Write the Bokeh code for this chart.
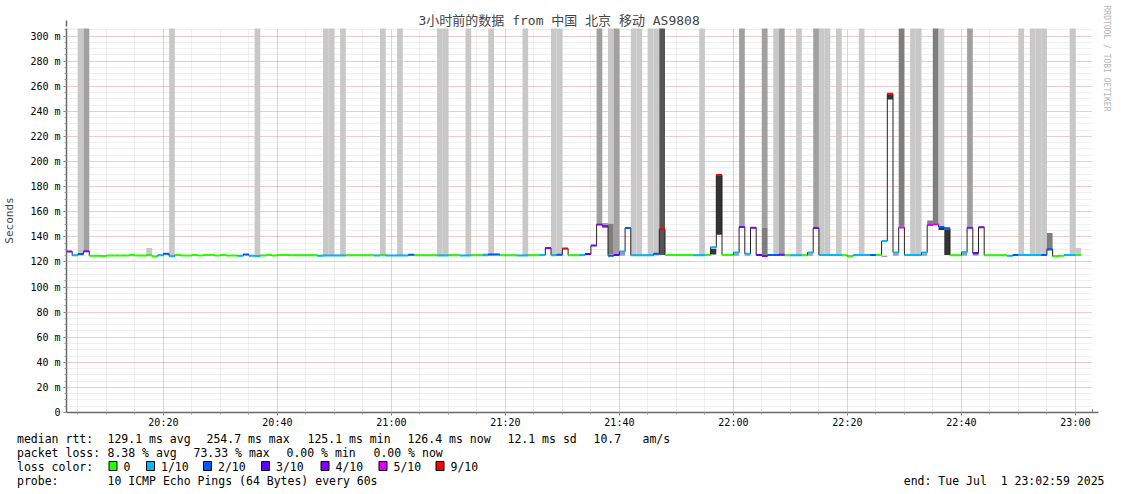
from bokeh.plotting import figure
from bokeh.layouts import column
from bokeh.models import (FixedTicker, Arrow, NormalHead, Range1d, ColumnDataSource, Title)
from bokeh.core.properties import value
from bokeh.embed import file_html
from bokeh.resources import INLINE

# ---------------- data ----------------
first_minute = 3          # first 1-minute step starts at 20:03 (minutes after 20:00)
rtt_median = [
    128.3, 125.3, 126.3, 128.5, 125.0, 125.0, 124.7, 125.1, 125.1, 125.1,
    125.1, 125.6, 125.1, 125.1, 125.3, 124.4, 125.3, 126.5, 124.5, 125.6,
    125.1, 125.1, 125.5, 125.1, 125.5, 125.5, 125.1, 125.5, 125.1, 125.1,
    125.0, 125.9, 125.0, 124.8, 125.2, 125.5, 125.2, 125.5, 125.5, 125.3,
    125.3, 125.3, 125.3, 125.3, 125.0, 125.2, 125.2, 125.2, 125.2, 125.3,
    125.3, 125.3, 125.3, 125.3, 125.2, 125.4, 125.2, 125.2, 125.2, 125.2,
    125.8, 125.3, 125.3, 125.3, 125.3, 125.2, 125.2, 125.4, 125.4, 125.2,
    125.2, 125.4, 125.4, 125.4, 126.0, 126.0, 125.3, 125.3, 125.3, 125.2,
    125.2, 125.4, 125.4, 125.5, 131.0, 125.3, 125.8, 130.6, 125.4, 125.4,
    125.5, 126.3, 133.0, 149.8, 148.5, 125.0, 125.6, 128.3, 147.0, 125.3,
    125.3, 125.3, 125.3, 126.5, 146.0, 125.5, 125.5, 125.5, 125.5, 125.5,
    125.3, 125.3, 125.5, 131.6, 189.3, 125.5, 125.5, 127.5, 147.9, 126.5,
    147.3, 125.6, 124.7, 125.5, 125.5, 125.8, 125.3, 125.3, 125.3, 125.3,
    127.5, 147.0, 125.5, 125.5, 125.5, 125.5, 125.3, 124.5, 125.5, 125.5,
    125.5, 125.5, 125.5, 136.6, 254.0, 127.5, 147.5, 125.5, 125.5, 125.5,
    127.5, 149.5, 150.0, 147.8, 146.8, 125.3, 125.3, 127.7, 147.3, 127.0,
    147.6, 125.3, 125.3, 125.3, 125.3, 125.0, 125.5, 125.5, 125.5, 125.5,
    125.5, 125.6, 130.0, 124.5, 125.0, 125.5, 125.5, 125.5,
]
loss_tenths = [
    4, 1, 2, 4, 0, 0, 0, 0, 0, 0,
    0, 0, 0, 0, 0, 0, 1, 2, 1, 0,
    0, 0, 0, 0, 0, 0, 0, 0, 0, 0,
    1, 2, 1, 1, 0, 0, 0, 0, 0, 0,
    0, 0, 0, 0, 1, 1, 1, 1, 1, 0,
    0, 0, 0, 0, 1, 0, 1, 1, 1, 1,
    2, 0, 0, 0, 0, 1, 1, 0, 0, 1,
    1, 0, 0, 1, 2, 2, 0, 0, 0, 1,
    1, 0, 0, 1, 4, 1, 2, 9, 0, 0,
    1, 3, 4, 4, 4, 2, 3, 1, 2, 1,
    1, 1, 1, 2, 9, 0, 0, 0, 0, 0,
    1, 1, 0, 1, 9, 0, 0, 1, 4, 1,
    4, 3, 4, 2, 2, 4, 0, 1, 1, 0,
    1, 4, 1, 1, 1, 1, 0, 0, 1, 1,
    1, 2, 0, 1, 9, 1, 5, 1, 1, 1,
    1, 5, 5, 2, 2, 0, 0, 1, 4, 3,
    4, 0, 0, 0, 0, 1, 2, 1, 1, 1,
    1, 2, 2, 0, 0, 1, 1, 0,
]
# smoke (spread of the 10 pings) per step: step index, low, high, density level
smoke_step = [2, 3, 14, 18, 33, 45, 46, 48, 55, 58, 65, 66, 70, 73, 74, 80, 85, 86,
              93, 94, 95, 95, 96, 97, 99, 100, 102, 103, 104, 111, 113, 114, 117,
              118, 119, 122, 122, 124, 125, 128, 130, 131, 132, 133, 135, 139, 143,
              144, 145, 146, 148, 149, 150, 151, 152, 153, 153, 154, 157, 158, 159,
              167, 169, 170, 171, 172, 176, 177]
smoke_low = [125.0, 129.3, 125.5, 125.0, 125.0, 125.0, 125.0, 125.0, 125.0, 125.0,
             125.0, 125.0, 125.0, 125.3, 125.0, 125.0, 125.0, 125.0,
             150.5, 147.0, 150.5, 126.0, 125.0, 125.0, 125.0, 125.0, 125.0, 125.0,
             125.5, 125.0, 126.0, 141.6, 125.0,
             148.7, 125.0, 147.5, 125.5, 125.0, 125.0, 125.0, 125.0, 147.8, 125.0,
             125.0, 125.0, 125.0, 124.0,
             249.5, 125.0, 148.2, 125.0, 125.0, 125.0, 150.3, 150.8, 148.6, 145.5,
             125.5, 125.0, 148.0, 125.0,
             125.0, 125.0, 125.0, 125.0, 129.0, 125.0, 126.0]
smoke_high = [400, 400, 131.0, 400, 400, 400, 400, 400, 400, 400,
              400, 400, 400, 127.0, 400, 400, 400, 400,
              400, 151.0, 400, 150.5, 400, 127.8, 400, 400, 400, 400,
              400, 400, 130.5, 188.5, 127.0,
              400, 126.0, 400, 147.5, 400, 400, 400, 127.0, 400, 400,
              400, 400, 400, 125.0,
              253.4, 127.0, 400, 400, 400, 127.0, 153.0, 400, 400, 147.0,
              146.0, 127.2, 400, 126.5,
              400, 400, 400, 400, 143.0, 400, 131.0]
smoke_level = [1, 2, 1, 1, 1, 1, 1, 1, 1, 1,
               1, 1, 1, 1, 1, 1, 1, 1,
               2, 2, 1, 3, 2, 2, 1, 1, 1, 1,
               4, 1, 5, 5, 2,
               2, 2, 2, 3, 1, 2, 1, 2, 2, 1,
               1, 1, 1, 2,
               5, 2, 3, 1, 1, 2, 3, 3, 1, 5,
               5, 2, 2, 2,
               1, 1, 1, 1, 3, 1, 1]

summary_rtt = ["median rtt:", "129.1 ms avg", "254.7 ms max", "125.1 ms min",
               "126.4 ms now", "12.1 ms sd", "10.7", "am/s"]
summary_loss = ["packet loss:", "8.38 % avg", "73.33 % max", "0.00 % min", "0.00 % now"]
loss_legend_keys = [0, 1, 2, 3, 4, 5, 9]
loss_legend_labels = ["0", "1/10", "2/10", "3/10", "4/10", "5/10", "9/10"]
probe_text = ["probe:", "10 ICMP Echo Pings (64 Bytes) every 60s"]
end_text = "end: Tue Jul\u00a0 1 23:02:59 2025"
title_text = "3小时前的数据 from 中国 北京 移动 AS9808"
watermark = "RRDTOOL / TOBI OETIKER"

x_tick_pos = [20, 40, 60, 80, 100, 120, 140, 160, 180]
x_tick_labels = ["20:20", "20:40", "21:00", "21:20", "21:40", "22:00", "22:20", "22:40", "23:00"]
y_tick_pos = [0, 20, 40, 60, 80, 100, 120, 140, 160, 180, 200, 220, 240, 260, 280, 300]
y_tick_labels = ["0", "20 m", "40 m", "60 m", "80 m", "100 m", "120 m", "140 m", "160 m",
                 "180 m", "200 m", "220 m", "240 m", "260 m", "280 m", "300 m"]

# ---------------- style ----------------
LOSS_COLORS = {0: "#26ff00", 1: "#00b8ff", 2: "#0059ff", 3: "#5e00ff",
               4: "#7e00ff", 5: "#dd00ff", 9: "#ff0000"}
SMOKE_COLORS = {1: "#c8c8c8", 2: "#a0a0a0", 3: "#7e7e7e", 4: "#555555", 5: "#333333"}
MONO = "DejaVu Sans Mono"
X0, X1 = 3, 183
Y0, Y1 = 0, 306
FL, FT, FW, FH = 66, 28, 1026, 384   # frame left/top/width/height (pixels)
MAIN_H = 430
TOTAL_W, TOTAL_H = 1121, 494


def sx(px):   # pixel x -> data x
    return X0 + (px - FL) * (X1 - X0) / FW


def sy(py):   # pixel y -> data y
    return Y0 + (FT + FH - py) * (Y1 - Y0) / FH


p = figure(output_backend="svg", toolbar_location=None,
           x_range=Range1d(X0, X1), y_range=Range1d(Y0, Y1),
           frame_width=FW, frame_height=FH,
           min_border_left=FL, min_border_top=FT,
           min_border_right=TOTAL_W - FL - FW, min_border_bottom=MAIN_H - FT - FH)
p.frame_align = False
p.outline_line_color = None
p.background_fill_color = "white"
p.border_fill_color = "white"

# title
p.title.text = title_text
p.title.align = "left"
p.title.offset = 418 - FL
p.title.text_font = MONO + ", Noto Sans CJK SC"
p.title.text_font_size = "13px"
p.title.text_font_style = "normal"
p.title.standoff = 1

# vertical watermark at the right
p.add_layout(Title(text=watermark, align="left", offset=-23, text_font=MONO,
                   text_font_size="8px", text_font_style="normal", text_color="#b4b4b4",
                   standoff=19), "right")

# grids
p.xgrid.ticker = FixedTicker(ticks=x_tick_pos, minor_ticks=list(range(5, 185, 5)))
p.ygrid.ticker = FixedTicker(ticks=y_tick_pos, minor_ticks=list(range(0, 310, 5)))
for g in (p.xgrid, p.ygrid):
    g.grid_line_color = "#ff0000"
    g.grid_line_alpha = 0.3
    g.grid_line_dash = "1 1"
    g.minor_grid_line_color = "#c8c8c8"
    g.minor_grid_line_alpha = 0.6
    g.minor_grid_line_dash = "1 1"

# axes
p.xaxis.ticker = FixedTicker(ticks=x_tick_pos, minor_ticks=list(range(5, 185, 5)))
p.xaxis.major_label_overrides = dict(zip(x_tick_pos, x_tick_labels))
p.yaxis.ticker = FixedTicker(ticks=y_tick_pos, minor_ticks=list(range(0, 310, 5)))
p.yaxis.major_label_overrides = dict(zip(y_tick_pos, y_tick_labels))
for ax in (p.xaxis[0], p.yaxis[0]):
    ax.axis_line_color = "#6a6a6a"
    ax.axis_line_width = 1.5
    ax.major_tick_line_color = "#6a6a6a"
    ax.minor_tick_line_color = "#9a9a9a"
    ax.major_tick_out = 3
    ax.major_tick_in = 0
    ax.minor_tick_out = 2
    ax.minor_tick_in = 0
    ax.major_label_text_font = MONO
    ax.major_label_text_font_size = "10px"
    ax.major_label_text_color = "#000000"
p.xaxis.major_label_standoff = 1
p.yaxis.major_label_standoff = 3
p.yaxis.axis_label = "Seconds"
p.yaxis.axis_label_text_font = MONO
p.yaxis.axis_label_text_font_size = "11px"
p.yaxis.axis_label_text_font_style = "normal"
p.yaxis.axis_label_standoff = 11

# smoke
smoke = ColumnDataSource(dict(
    left=[first_minute + s for s in smoke_step],
    right=[first_minute + s + 1 for s in smoke_step],
    bottom=smoke_low, top=smoke_high,
    color=[SMOKE_COLORS[l] for l in smoke_level]))
p.quad(left="left", right="right", bottom="bottom", top="top", fill_color="color",
       line_color=None, source=smoke)

# median line (dark step line)
lx, ly = [], []
for i, m in enumerate(rtt_median):
    lx += [first_minute + i, first_minute + i + 1]
    ly += [m, m]
p.line(lx, ly, line_color="#202020", line_width=1)

# loss coloured median bands
band = ColumnDataSource(dict(
    left=[first_minute + i for i in range(len(rtt_median))],
    right=[first_minute + i + 1 for i in range(len(rtt_median))],
    bottom=[m - 0.8 for m in rtt_median], top=[m + 0.8 for m in rtt_median],
    color=[LOSS_COLORS[l] for l in loss_tenths]))
p.quad(left="left", right="right", bottom="bottom", top="top", fill_color="color",
       line_color=None, source=band)

# axis arrows
head = dict(size=6, fill_color="#7f1f1f", line_color="#7f1f1f")
p.add_layout(Arrow(x_start=X1, y_start=0, x_end=sx(1098), y_end=0,
                   line_color="#6a6a6a", line_width=1.5, end=NormalHead(**head)))
p.add_layout(Arrow(x_start=X0, y_start=Y1, x_end=X0, y_end=sy(20),
                   line_color="#6a6a6a", line_width=1.5, end=NormalHead(**head)))

# ---------------- legend / summary block below the graph ----------------
b = figure(width=TOTAL_W, height=TOTAL_H - MAIN_H, output_backend="svg",
           toolbar_location=None, x_range=Range1d(0, TOTAL_W),
           y_range=Range1d(TOTAL_H, MAIN_H), min_border=0,
           x_axis_location=None, y_axis_location=None)
b.frame_align = False
b.grid.visible = False
b.outline_line_color = None
b.background_fill_color = "white"
b.border_fill_color = "white"

rtt_x = [16.5, 107, 206, 307, 407, 507, 593, 642]
loss_x = [16.5, 107, 193, 286, 373]
sq_x = [112.5, 150, 207, 265, 324.5, 382.5, 439.5]
tx, ty, tt = [], [], []
tx += rtt_x; ty += [438] * len(rtt_x); tt += summary_rtt
tx += loss_x; ty += [452] * len(loss_x); tt += summary_loss
tx += [16.5]; ty += [466]; tt += ["loss color:"]
tx += [x + 10.5 for x in sq_x]; ty += [466] * len(sq_x); tt += loss_legend_labels
tx += [16.5, 107]; ty += [480, 480]; tt += probe_text
b.text(x=tx, y=ty, text=tt, text_font=value(MONO), text_font_size=value("11.5px"),
       text_baseline="middle", text_align="left", text_color="#000000")
b.text(x=[1104], y=[480], text=[end_text], text_font=value(MONO),
       text_font_size=value("11.5px"), text_baseline="middle", text_align="right",
       text_color="#000000")
b.rect(x=sq_x, y=[465.5] * len(sq_x), width=8, height=9,
       fill_color=[LOSS_COLORS[k] for k in loss_legend_keys], line_color="#000000",
       line_width=1)

layout = column(p, b, spacing=0)
open("out.html", "w").write(file_html(layout, INLINE))
